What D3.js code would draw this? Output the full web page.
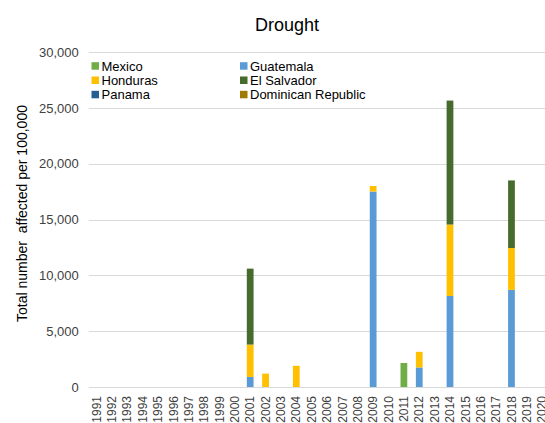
<!DOCTYPE html>
<html>
<head>
<meta charset="utf-8">
<script src="https://cdn.jsdelivr.net/npm/d3@7"></script>
<style>
  html, body { margin: 0; padding: 0; background: #fff; }
  svg { display: block; font-family: "Liberation Sans", Arial, sans-serif; }
</style>
</head>
<body>
<svg id="chart" width="545" height="423"></svg>
<script>
// Years on the category axis
const years = d3.range(1991, 2021).map(String);

// Country series, bottom to top of each stack
const countries = ["Mexico", "Guatemala", "Honduras", "El Salvador", "Panama", "Dominican Republic"];
const colors = ["#70AD47", "#5B9BD5", "#FFC000", "#466B2D", "#255E91", "#9E7A00"];

// Affected per 100,000, by year (only years with events listed)
const mexico      = { 2011: 2150 };
const guatemala   = { 2001: 900, 2009: 17500, 2012: 1750, 2014: 8150, 2018: 8700 };
const honduras    = { 2001: 2900, 2002: 1200, 2004: 1900, 2009: 500, 2012: 1400, 2014: 6400, 2018: 3750 };
const elSalvador  = { 2001: 6800, 2014: 11100, 2018: 6050 };
const panama      = {};
const dominican   = {};

const yTicks = [0, 5000, 10000, 15000, 20000, 25000, 30000];

const seriesByCountry = [mexico, guatemala, honduras, elSalvador, panama, dominican];
const rows = years.map(y => {
  const r = { year: y };
  countries.forEach((c, i) => { r[c] = seriesByCountry[i][y] || 0; });
  return r;
});

const svg = d3.select("#chart");
const plot = { left: 88.8, right: 549.9, top: 52, bottom: 387 };

const x = d3.scaleBand()
  .domain(years)
  .range([plot.left, plot.right])
  .paddingInner(0.56)
  .paddingOuter(0.28);

const y = d3.scaleLinear()
  .domain([0, 30000])
  .range([plot.bottom, plot.top]);

// Horizontal gridlines
svg.append("g")
  .selectAll("line")
  .data(yTicks)
  .join("line")
  .attr("x1", plot.left)
  .attr("x2", plot.right)
  .attr("y1", d => Math.round(y(d)) + 0.5)
  .attr("y2", d => Math.round(y(d)) + 0.5)
  .attr("stroke", "#d9d9d9")
  .attr("stroke-width", 1);

// Y axis labels
const yAxis = d3.axisLeft(y).tickValues(yTicks).tickFormat(d3.format(",")).tickSize(0).tickPadding(0);
svg.append("g")
  .attr("transform", `translate(${plot.left - 10},0)`)
  .call(yAxis)
  .call(g => g.select(".domain").remove())
  .selectAll("text")
  .attr("font-size", 13)
  .attr("fill", "#404040")
  .attr("font-family", "Liberation Sans, Arial, sans-serif");

// X axis labels, rotated
const xAxis = d3.axisBottom(x).tickSize(0).tickPadding(0);
svg.append("g")
  .attr("transform", `translate(0,${plot.bottom + 9})`)
  .call(xAxis)
  .call(g => g.select(".domain").remove())
  .selectAll("text")
  .attr("font-size", 12)
  .attr("fill", "#404040")
  .attr("font-family", "Liberation Sans, Arial, sans-serif")
  .attr("text-anchor", "end")
  .attr("dy", "0.35em")
  .attr("transform", "rotate(-90)")
  .attr("y", 0)
  .attr("x", 0);

// Stacked bars
const stack = d3.stack().keys(countries)(rows);
svg.append("g")
  .selectAll("g")
  .data(stack)
  .join("g")
  .attr("fill", (d, i) => colors[i])
  .selectAll("rect")
  .data(d => d.filter(p => p[1] - p[0] > 0))
  .join("rect")
  .attr("x", d => x(d.data.year))
  .attr("width", x.bandwidth())
  .attr("y", d => y(d[1]))
  .attr("height", d => y(d[0]) - y(d[1]));

// Title
svg.append("text")
  .attr("x", 287)
  .attr("y", 31)
  .attr("text-anchor", "middle")
  .attr("font-size", 18)
  .attr("fill", "#000")
  .text("Drought");

// Y axis title
svg.append("text")
  .attr("transform", `translate(27,${(plot.top + plot.bottom) / 2 - 6}) rotate(-90)`)
  .attr("text-anchor", "middle")
  .attr("font-size", 14)
  .attr("fill", "#000")
  .style("white-space", "pre")
  .text("Total number  affected per 100,000");

// Legend, two columns
const legend = svg.append("g");
const legendItems = legend.selectAll("g")
  .data(countries)
  .join("g")
  .attr("transform", (d, i) => `translate(${i % 2 === 0 ? 91.5 : 240},${66 + Math.floor(i / 2) * 14.3})`);
legendItems.append("rect")
  .attr("x", 0).attr("y", -3.8)
  .attr("width", 7.5).attr("height", 7.5)
  .attr("fill", (d, i) => colors[i]);
legendItems.append("text")
  .attr("x", 10)
  .attr("y", 0)
  .attr("dy", "0.35em")
  .attr("font-size", 13)
  .attr("fill", "#000")
  .text(d => d);
</script>
</body>
</html>
